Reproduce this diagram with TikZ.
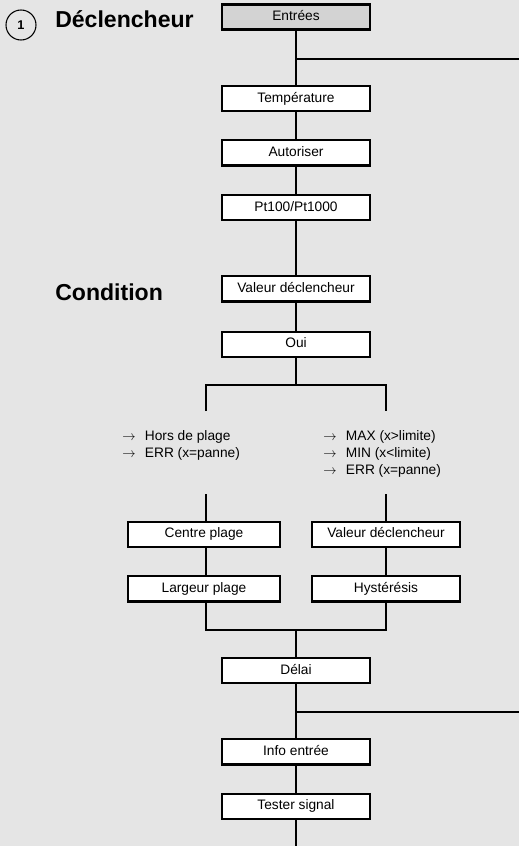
\documentclass[tikz,border=0pt]{standalone}
\usepackage{fontspec}
\setmainfont{Liberation Sans}
\usepackage{xcolor}
\usetikzlibrary{positioning}
\definecolor{bggray}{HTML}{E5E5E5}
\definecolor{boxgray}{HTML}{D3D3D3}
\newcommand{\arr}{\makebox[17pt][l]{$\rightarrow$}}

\begin{document}
\begin{tikzpicture}[x=0.75pt, y=-0.75pt,
    box/.style={draw, fill=white, line width=1.7pt, minimum width=110.8pt, minimum height=18.9pt, inner sep=0pt, text height=7.4pt, text depth=2pt, font=\fontsize{10.3}{12}\selectfont},
    wire/.style={line width=1.7pt},
    title/.style={anchor=base west, inner sep=0pt, font=\fontsize{17.3}{20}\selectfont\bfseries},
    note/.style={anchor=base west, inner sep=0pt, align=left, font=\fontsize{10.3}{12.75}\selectfont}
  ]
    \path[use as bounding box, fill=bggray] (0,0) rectangle (519,846);
    \node[draw, circle, line width=0.8pt, minimum size=22.5pt, inner sep=0pt, font=\fontsize{9.5}{11}\selectfont\bfseries] (num) at (21,25) {1};
    \node[title] (trigger) at (55,27.3) {Déclencheur};
    \node[title] (cond) at (55,300) {Condition};
    \node[box, fill=boxgray] (entrees) at (296,17) {Entrées};
    \node[box, below=40.5pt of entrees] (temp) {Température};
    \node[box, below=20.25pt of temp] (autor) {Autoriser};
    \node[box, below=20.25pt of autor] (pt) {Pt100/Pt1000};
    \node[box, below=40.5pt of pt] (valeur) {Valeur déclencheur};
    \node[box, below=21pt of valeur] (oui) {Oui};
    \coordinate (out1) at (519,58.7);
    \coordinate (split) at (296,385);
    \coordinate (endL) at (205.7,411);
    \coordinate (endR) at (386,411);
    \draw[wire] (entrees) -- (temp);
    \draw[wire] (entrees.south |- out1) -- (out1);
    \draw[wire] (temp) -- (autor);
    \draw[wire] (autor) -- (pt);
    \draw[wire] (pt) -- (valeur);
    \draw[wire] (valeur) -- (oui);
    \draw[wire] (oui) -- (split);
    \draw[wire] (endL) |- (split) -| (endR);
    \node[note] (horsplage) at (122,457) {\arr Hors de plage\\\arr ERR (x=panne)};
    \node[note] (limites) at (323,474.7) {\arr MAX (x>limite)\\\arr MIN (x<limite)\\\arr ERR (x=panne)};
    \coordinate (topL) at (205.7,494);
    \coordinate (topR) at (386,494);
    \node[box, minimum width=113.8pt] (centre) at (204,534.3) {Centre plage};
    \node[box, minimum width=113.8pt, below=20.25pt of centre] (largeur) {Largeur plage};
    \node[box] (seuil) at (386,534.3) {Valeur déclencheur};
    \node[box, below=20.25pt of seuil] (hyst) {Hystérésis};
    \draw[wire] (topL) -- (topL |- centre.north);
    \draw[wire] (topR) -- (seuil);
    \draw[wire] (centre.south -| topL) -- (largeur.north -| topL);
    \draw[wire] (seuil) -- (hyst);
    \coordinate (merge) at (296,630);
    \draw[wire] (largeur.south -| topL) |- (merge) -| (hyst.south);
    \node[box] (delai) at (296,670.4) {Délai};
    \node[box, below=40.5pt of delai] (info) {Info entrée};
    \node[box, below=20.25pt of info] (tester) {Tester signal};
    \coordinate (out2) at (519,711.7);
    \coordinate (bottom) at (296,846);
    \draw[wire] (merge) -- (delai);
    \draw[wire] (delai) -- (info);
    \draw[wire] (delai.south |- out2) -- (out2);
    \draw[wire] (info) -- (tester);
    \draw[wire] (tester) -- (bottom);
  \end{tikzpicture}
\end{document}
